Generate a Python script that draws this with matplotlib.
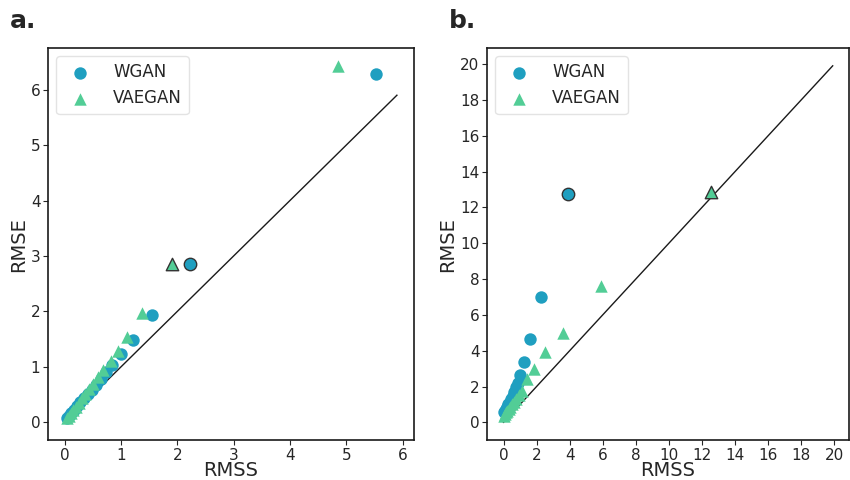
import matplotlib
matplotlib.use("Agg")
import matplotlib.pyplot as plt

BLUE = "#1f9fc0"
GREEN = "#52cd96"
TEXT = "#262626"

# panel a
wgan_a_x = [0.05, 0.08, 0.12, 0.17, 0.22, 0.28, 0.34, 0.41, 0.48, 0.56, 0.64, 0.73, 0.84, 1.00, 1.21, 1.55, 2.23, 5.53]
wgan_a_y = [0.08, 0.12, 0.17, 0.23, 0.29, 0.36, 0.43, 0.51, 0.59, 0.68, 0.78, 0.90, 1.03, 1.24, 1.49, 1.94, 2.85, 6.29]
vaegan_a_x = [0.04, 0.07, 0.11, 0.15, 0.20, 0.25, 0.31, 0.37, 0.44, 0.51, 0.59, 0.68, 0.82, 0.94, 1.10, 1.37, 1.91, 4.86]
vaegan_a_y = [0.07, 0.11, 0.16, 0.22, 0.28, 0.35, 0.43, 0.51, 0.60, 0.70, 0.82, 0.95, 1.11, 1.29, 1.54, 1.97, 2.85, 6.43]
line_a = [0, 5.9]

# panel b
wgan_b_x = [0.05, 0.10, 0.15, 0.22, 0.30, 0.38, 0.47, 0.56, 0.66, 0.77, 0.90, 1.02, 1.26, 1.62, 2.28, 3.90]
wgan_b_y = [0.55, 0.65, 0.75, 0.87, 1.00, 1.15, 1.30, 1.48, 1.68, 1.95, 2.22, 2.65, 3.34, 4.65, 7.02, 12.76]
vaegan_b_x = [0.05, 0.10, 0.16, 0.23, 0.31, 0.40, 0.50, 0.62, 0.76, 0.92, 1.12, 1.44, 1.86, 2.52, 3.60, 5.90, 12.55]
vaegan_b_y = [0.35, 0.45, 0.55, 0.65, 0.76, 0.88, 1.00, 1.15, 1.30, 1.50, 1.75, 2.40, 3.00, 3.90, 4.98, 7.63, 12.87]
line_b = [0, 19.9]

plt.rcParams["font.family"] = ["DejaVu Sans"]

fig = plt.figure(figsize=(8.5, 4.8), dpi=100)
ax_a = fig.add_axes([0.0565, 0.083, 0.43, 0.817])
ax_b = fig.add_axes([0.573, 0.083, 0.426, 0.817])

# panel a: the outlined points are second-to-last (the last one is the far outlier)
ax = ax_a
ax.plot(line_a, line_a, color="#1a1a1a", lw=1.0, zorder=1)
ax.scatter(wgan_a_x[:-2] + wgan_a_x[-1:], wgan_a_y[:-2] + wgan_a_y[-1:], s=80, color=BLUE,
           marker="o", linewidths=0, label="WGAN", zorder=2)
ax.scatter(vaegan_a_x[:-2] + vaegan_a_x[-1:], vaegan_a_y[:-2] + vaegan_a_y[-1:], s=80, color=GREEN,
           marker="^", linewidths=0, label="VAEGAN", zorder=2)
ax.scatter(wgan_a_x[-2:-1], wgan_a_y[-2:-1], s=80, color=BLUE, marker="o",
           edgecolors="#333333", linewidths=1.0, zorder=3)
ax.scatter(vaegan_a_x[-2:-1], vaegan_a_y[-2:-1], s=80, color=GREEN, marker="^",
           edgecolors="#333333", linewidths=1.0, zorder=3)

# panel b: outlined points are the last ones
ax = ax_b
ax.plot(line_b, line_b, color="#1a1a1a", lw=1.0, zorder=1)
ax.scatter(wgan_b_x[:-1], wgan_b_y[:-1], s=80, color=BLUE, marker="o", linewidths=0,
           label="WGAN", zorder=2)
ax.scatter(vaegan_b_x[:-1], vaegan_b_y[:-1], s=80, color=GREEN, marker="^", linewidths=0,
           label="VAEGAN", zorder=2)
ax.scatter(wgan_b_x[-1:], wgan_b_y[-1:], s=80, color=BLUE, marker="o",
           edgecolors="#333333", linewidths=1.0, zorder=3)
ax.scatter(vaegan_b_x[-1:], vaegan_b_y[-1:], s=80, color=GREEN, marker="^",
           edgecolors="#333333", linewidths=1.0, zorder=3)

for ax, xt, yt in [(ax_a, range(0, 7), range(0, 7)),
                   (ax_b, range(0, 21, 2), range(0, 21, 2))]:
    ax.set_xticks(list(xt))
    ax.set_yticks(list(yt))
    ax.tick_params(labelsize=11, colors=TEXT, length=3.5, pad=2)
    for sp in ax.spines.values():
        sp.set_color("#1a1a1a")
        sp.set_linewidth(1.2)
    ax.set_xlabel("RMSS", fontsize=14, color=TEXT, labelpad=-1)
    ax.set_ylabel("RMSE", fontsize=14, color=TEXT, labelpad=2)
    leg = ax.legend(loc="upper left", fontsize=12, handletextpad=1.0, labelcolor=TEXT)
    leg.get_frame().set_edgecolor("#dddddd")

fig.text(0.012, 0.956, "a.", fontsize=18, fontweight="bold", color=TEXT, va="center")
fig.text(0.528, 0.956, "b.", fontsize=18, fontweight="bold", color=TEXT, va="center")

fig.savefig("out.png", dpi=100)
